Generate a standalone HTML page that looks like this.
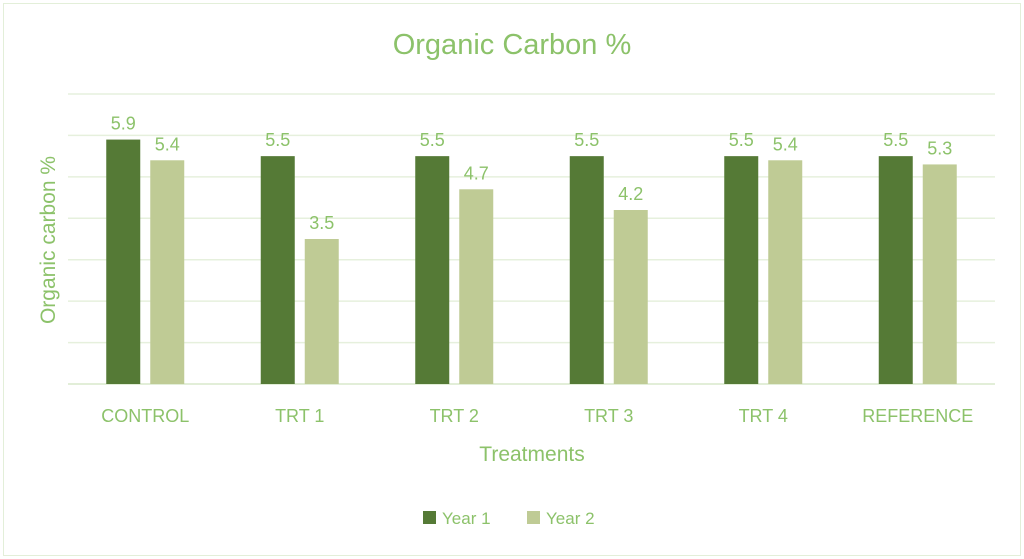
<!DOCTYPE html>
<html><head><meta charset="utf-8"><style>
body{margin:0;background:#fff;}
svg{display:block;font-family:"Liberation Sans",sans-serif;}
</style></head><body>
<svg width="1024" height="559">
<rect x="3.5" y="3.5" width="1017" height="552" fill="#fff" stroke="#e3efd9"/>
<text x="512" y="54" text-anchor="middle" font-size="29" fill="#8cc26a">Organic Carbon %</text>
<g id="grid"></g>
<g id="bars"></g>
<g id="labels"></g>
<text transform="translate(55,240) rotate(-90)" text-anchor="middle" font-size="21" fill="#8cc26a">Organic carbon %</text>
<text x="532" y="461" text-anchor="middle" font-size="21" fill="#8cc26a">Treatments</text>
<g>
<rect x="423" y="511" width="13" height="13" fill="#557a36"/>
<text x="442" y="524" font-size="17" fill="#8cc26a">Year 1</text>
<rect x="527" y="511" width="13" height="13" fill="#bfcb95"/>
<text x="546" y="524" font-size="17" fill="#8cc26a">Year 2</text>
</g>
</svg>
<script>
const categories=["CONTROL","TRT 1","TRT 2","TRT 3","TRT 4","REFERENCE"];
const year1=[5.9,5.5,5.5,5.5,5.5,5.5];
const year2=[5.4,3.5,4.7,4.2,5.4,5.3];
const yTicks=[0,1,2,3,4,5,6,7];
const NS="http://www.w3.org/2000/svg";
const x0=68,x1=995,yBase=384,yTop=94,yMax=7;
const bw=(x1-x0)/categories.length;
function y(v){return yBase-(yBase-yTop)*v/yMax;}
function mk(t,a,p){const e=document.createElementNS(NS,t);for(const k in a)e.setAttribute(k,a[k]);p.appendChild(e);return e;}
const grid=document.getElementById('grid'),bars=document.getElementById('bars'),labels=document.getElementById('labels');
yTicks.forEach(t=>{
 const l=mk('line',{x1:x0,x2:x1,y1:y(t),y2:y(t),stroke:t===0?'#d9e8cc':'#e6f0dd','stroke-width':1.5},grid);
 
 
});
categories.forEach((c,i)=>{
 const cx=x0+bw*(i+0.5);
 [[year1[i],cx-39,'#557a36','year1'],[year2[i],cx+5,'#bfcb95','year2']].forEach(([v,bx,col,s])=>{
  const r=mk('rect',{x:bx,y:y(v),width:34,height:yBase-y(v),fill:col},bars);
  
  
  const t=mk('text',{x:bx+17,y:y(v)-10,'text-anchor':'middle','font-size':18,fill:'#8cc26a'},labels);
  t.textContent=v.toFixed(1);
  
  
 });
 const t=mk('text',{x:cx,y:422,'text-anchor':'middle','font-size':18,fill:'#8cc26a'},labels);
 t.textContent=c;
 
 
});
</script>
</body></html>
